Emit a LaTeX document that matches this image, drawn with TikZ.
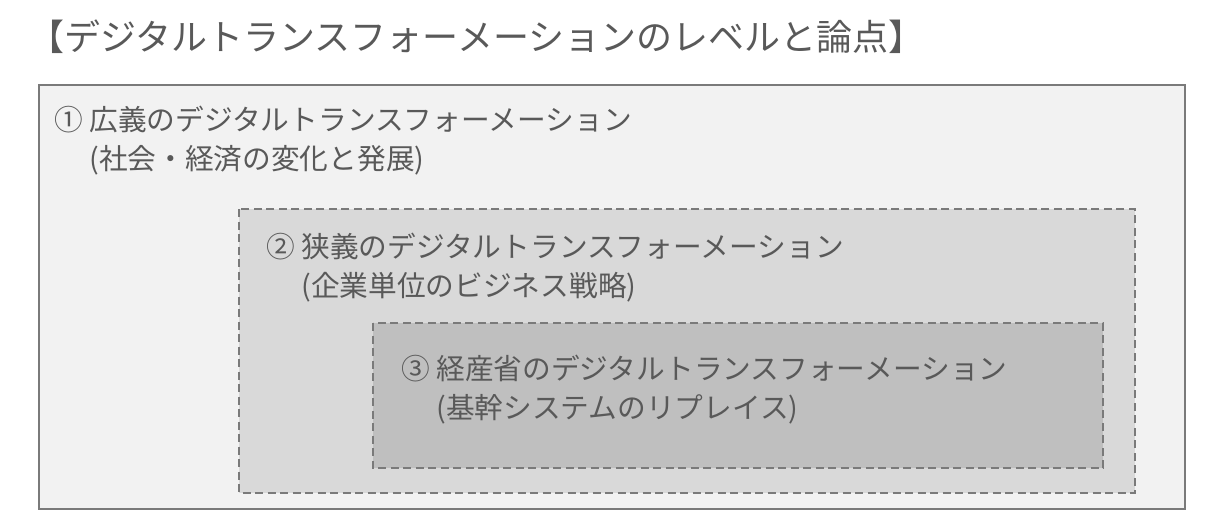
\documentclass[tikz,border=0pt]{standalone}
\usepackage{fontspec}
\setmainfont{Noto Sans CJK JP}
\usepackage{xcolor}
\definecolor{lvlone}{HTML}{F2F2F2}
\definecolor{lvltwo}{HTML}{D9D9D9}
\definecolor{lvlthree}{HTML}{BFBFBF}
\definecolor{edgegray}{HTML}{7A7A7A}
\definecolor{inkgray}{HTML}{595959}

\begin{document}
\begin{tikzpicture}[x=1pt,y=-1pt]
            \newcommand{\lvlbox}[5]{
                \filldraw[#5] (#1,#2) rectangle (#3,#4)
            }
            \tikzset{
                lvltext/.style={anchor=base west, inner sep=0pt, align=left, text=inkgray,
                    font=\fontsize{28.7}{39}\selectfont},
                dashedge/.style={draw=edgegray, line width=1.5pt, dash pattern=on 8pt off 4.5pt}
            }
            \useasboundingbox (0,0) rectangle (1222,524);

            \node[anchor=base west, inner sep=0pt, text=inkgray, font=\fontsize{36}{40}\selectfont] (title) at (28,51) {【デジタルトランスフォーメーションのレベルと論点】};

            \lvlbox{39}{85}{1185}{509}{fill=lvlone, draw=edgegray, line width=2pt};
            \lvlbox{239}{209}{1135}{493}{fill=lvltwo, dashedge};
            \lvlbox{373}{323}{1103}{468}{fill=lvlthree, dashedge};

            % the base anchor sits on the second line
            \node[lvltext] (wide) at (54,169.5) {① 広義のデジタルトランスフォーメーション\\\phantom{①\ }(社会・経済の変化と発展)};
            \node[lvltext] (narrow) at (266,296.5) {② 狭義のデジタルトランスフォーメーション\\\phantom{②\ }(企業単位のビジネス戦略)};
            \node[lvltext] (meti) at (401,418.5) {③ 経産省のデジタルトランスフォーメーション\\\phantom{③\ }(基幹システムのリプレイス)};
        \end{tikzpicture}
\end{document}
